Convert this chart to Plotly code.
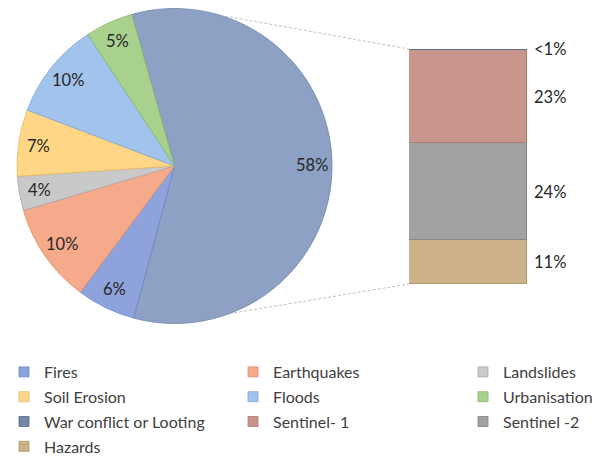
import math
import plotly.graph_objects as go

W, H = 606, 459

# ---- data ----
bar_labels = ["Hazards", "Sentinel -2", "Sentinel- 1", "War conflict or Looting"]
bar_values = [10.9, 24.0, 23.2, 0.2]
bar_text = ["11%", "24%", "23%", "<1%"]

pie_labels = ["Other", "Fires", "Earthquakes", "Landslides", "Soil Erosion", "Floods", "Urbanisation"]
pie_values = [sum(bar_values), 6.0, 10.2, 3.5, 6.8, 9.9, 4.9]
pie_text = ["58%", "6%", "10%", "4%", "7%", "10%", "5%"]

legend_order = ["Fires", "Earthquakes", "Landslides",
                "Soil Erosion", "Floods", "Urbanisation",
                "War conflict or Looting", "Sentinel- 1", "Sentinel -2",
                "Hazards"]

# ---- styles ----
colors = {
    "Other": "#8DA1C4",
    "Fires": "#8EA3DB",
    "Earthquakes": "#F5AA8C",
    "Landslides": "#C9C9C9",
    "Soil Erosion": "#FFD685",
    "Floods": "#A2C3EB",
    "Urbanisation": "#A9D18E",
    "War conflict or Looting": "#7587A9",
    "Sentinel- 1": "#C9968B",
    "Sentinel -2": "#A2A2A2",
    "Hazards": "#CCB189",
}
edges = {
    "Other": "#6C80A6",
    "Fires": "#6F86C4",
    "Earthquakes": "#E08D6E",
    "Landslides": "#A8A8A8",
    "Soil Erosion": "#E6B960",
    "Floods": "#7FA6D6",
    "Urbanisation": "#88B56C",
    "War conflict or Looting": "#55678C",
    "Sentinel- 1": "#A8776C",
    "Sentinel -2": "#808080",
    "Hazards": "#AD9468",
}
FONT = "Lato"
TXT = "#262626"

pie_dom_x = [17 / W, 332 / W]
pie_dom_y = [135.5 / H, 450.5 / H]
rotation = -15.7

bar_dom_x = [409 / W, 527 / W]
bar_dom_y = [(H - 284) / H, (H - 49) / H]

fig = go.Figure()

fig.add_trace(go.Pie(
    labels=pie_labels, values=pie_values, sort=False, direction="clockwise",
    rotation=rotation, textinfo="none", showlegend=False,
    marker=dict(colors=[colors[l] for l in pie_labels],
                line=dict(color=[edges[l] for l in pie_labels], width=0.8)),
    domain=dict(x=pie_dom_x, y=pie_dom_y),
))

total_bar = sum(bar_values)
for lab, v in zip(bar_labels, bar_values):
    fig.add_trace(go.Bar(
        x=[0], y=[v], width=1, name=lab, showlegend=False,
        marker=dict(color=colors[lab], line=dict(color=edges[lab], width=0.8)),
        xaxis="x", yaxis="y",
    ))

# legend entries (three columns)
for i, lab in enumerate(legend_order):
    col = i % 3
    fig.add_trace(go.Scatter(
        x=[None], y=[None], mode="markers", name=lab,
        legend=["legend", "legend2", "legend3"][col], legendgroup=lab,
        marker=dict(symbol="square", size=10, color=colors[lab],
                    line=dict(color=edges[lab], width=0.8)),
        xaxis="x", yaxis="y", hoverinfo="skip",
    ))

annotations = []
# pie labels
cx = (pie_dom_x[0] + pie_dom_x[1]) / 2
cy = (pie_dom_y[0] + pie_dom_y[1]) / 2
r_px = min((pie_dom_x[1] - pie_dom_x[0]) * W, (pie_dom_y[1] - pie_dom_y[0]) * H) / 2
tot = sum(pie_values)
cum = 0
for v, t in zip(pie_values, pie_text):
    a = math.radians(rotation + 360 * (cum + v / 2) / tot)
    cum += v
    annotations.append(dict(
        x=cx + 0.87 * r_px * math.sin(a) / W, y=cy + 0.87 * r_px * math.cos(a) / H,
        xref="paper", yref="paper", text=t, showarrow=False,
        xanchor="center", yanchor="middle",
        font=dict(family=FONT, size=16.5, color=TXT)))

# bar labels
cum = 0
for v, t in zip(bar_values, bar_text):
    annotations.append(dict(
        x=0.5, y=cum + v / 2, xref="x", yref="y", text=t, showarrow=False,
        xanchor="left", yanchor="middle", xshift=5,
        font=dict(family=FONT, size=16.5, color=TXT)))
    cum += v

# connector lines
shapes = []
for ang, by in [(16.8, bar_dom_y[1]), (159.6, bar_dom_y[0])]:
    a = math.radians(ang)
    shapes.append(dict(
        type="line", xref="paper", yref="paper",
        x0=cx + r_px * math.sin(a) / W, y0=cy + r_px * math.cos(a) / H,
        x1=bar_dom_x[0], y1=by,
        line=dict(color="#B0B0B0", width=0.8, dash="3px,2px")))

leg_common = dict(orientation="v", yanchor="top", xanchor="left", y=(H - 355) / H,
                  font=dict(family=FONT, size=16, color="#404040"),
                  bgcolor="rgba(0,0,0,0)", tracegroupgap=1, borderwidth=0)

fig.update_layout(
    width=W, height=H, margin=dict(l=0, r=0, t=0, b=0, autoexpand=False),
    paper_bgcolor="white", plot_bgcolor="white",
    barmode="stack", bargap=0,
    xaxis=dict(domain=bar_dom_x, range=[-0.5, 0.5], visible=False, fixedrange=True),
    yaxis=dict(domain=bar_dom_y, range=[0, total_bar], visible=False, fixedrange=True),
    legend=dict(x=4 / W, **leg_common),
    legend2=dict(x=233 / W, **leg_common),
    legend3=dict(x=463 / W, **leg_common),
    annotations=annotations, shapes=shapes,
    font=dict(family=FONT),
)

fig.write_html("out.html", config={"displayModeBar": False},
               post_script="document.body.style.margin='0';")
